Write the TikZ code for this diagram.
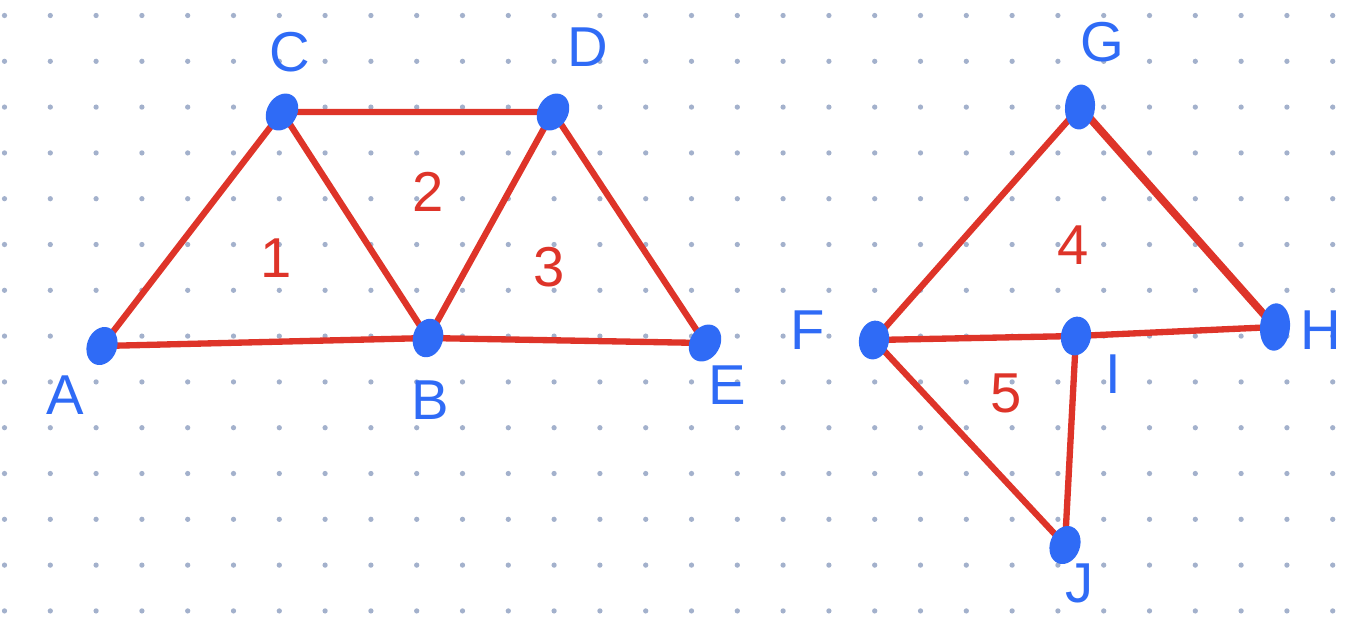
\documentclass[tikz,border=0pt]{standalone}
\usepackage{fontspec}
\setsansfont{Liberation Sans}
\usetikzlibrary{shapes.geometric}
\definecolor{penblue}{HTML}{2F6BF6}
\definecolor{penred}{HTML}{DE3429}
\definecolor{gridgray}{HTML}{A3B1CC}
\pgfdeclarelayer{grid}
\pgfdeclarelayer{edges}
\pgfsetlayers{grid,edges,main}

\begin{document}
\begin{tikzpicture}[x=0.02cm, y=-0.02cm, line cap=round,
    vert/.style={ellipse, fill=penblue, inner sep=0pt, minimum width=0.6cm, minimum height=0.78cm},
    lab/.style={penblue, font=\sffamily\fontsize{32}{32}\selectfont},
    region/.style={penred, font=\sffamily\fontsize{32}{32}\selectfont},
    seg/.style={penred, line width=3.6pt}]
    \useasboundingbox (0,0) rectangle (1372,627);
    % Dotted paper
    \begin{pgfonlayer}{grid}
    \foreach \i in {0,...,29} \foreach \j in {0,...,13}
        \fill[gridgray] (4.5+45.8*\i, 15.5+45.8*\j) circle (1.5pt);
    \end{pgfonlayer}
    % Vertices
    \node[vert, rotate=-20] (A) at (102,346) {};
    \node[vert, rotate=-15] (B) at (428,338) {};
    \node[vert, rotate=-30] (C) at (282,112) {};
    \node[vert, rotate=-30] (D) at (553,112) {};
    \node[vert, rotate=-30] (E) at (705,343) {};
    \node[vert, rotate=-10] (F) at (874,340) {};
    \node[vert, rotate=-5, minimum height=0.9cm] (G) at (1080,107) {};
    \node[vert, rotate=-5, minimum height=0.95cm] (H) at (1275,327) {};
    \node[vert, rotate=-10] (I) at (1076,336) {};
    \node[vert, rotate=-20] (J) at (1065,545) {};
    % Vertex names
    \node[lab] (labA) at (65,395) {A};
    \node[lab] (labB) at (430,400) {B};
    \node[lab] (labC) at (290,52) {C};
    \node[lab] (labD) at (588,47) {D};
    \node[lab] (labE) at (727,385) {E};
    \node[lab] (labF) at (808,330) {F};
    \node[lab] (labG) at (1102,42) {G};
    \node[lab] (labH) at (1321,330) {H};
    \node[lab] (labI) at (1113,374) {I};
    \node[lab] (labJ) at (1080,583) {J};
    % Faces
    \node[region] (f1) at (276,258) {1};
    \node[region] (f2) at (428,192) {2};
    \node[region] (f3) at (549,267) {3};
    \node[region] (f4) at (1073,245) {4};
    \node[region] (f5) at (1006,393) {5};
    % Edges
    \begin{pgfonlayer}{edges}
    \draw[seg] (A.center) -- (C.center) -- (B.center) -- (A.center);
    \draw[seg] (C.center) -- (D.center) -- (B.center) -- (E.center) -- (D.center);
    \draw[seg] (F.center) -- (G.center);
    \draw[seg, line width=4.4pt] (G.center) -- (H.center);
    \draw[seg] (F.center) -- (I.center) -- (H.center);
    \draw[seg] (F.center) -- (J.center) -- (I.center);
    \end{pgfonlayer}
\end{tikzpicture}
\end{document}
